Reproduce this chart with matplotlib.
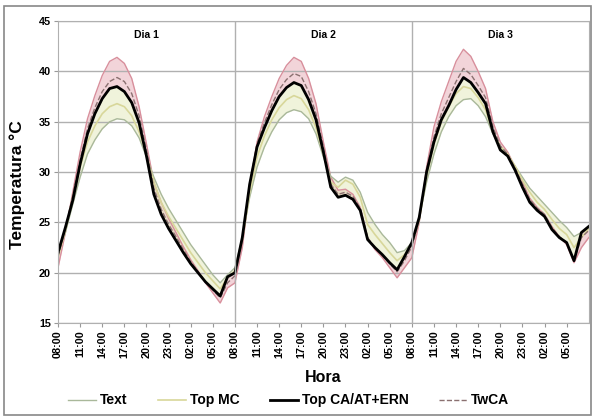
import numpy as np
import matplotlib
matplotlib.use("Agg")
import matplotlib.pyplot as plt
from matplotlib.patches import Rectangle

plt.rcParams['font.family'] = ['Liberation Sans', 'DejaVu Sans']

# horas desde las 08:00 del dia 1
horas = list(range(73))

top_ca = [22.0, 24.5, 27.2, 30.8, 33.8, 35.8, 37.3, 38.3, 38.5, 38.0, 36.9, 34.9, 31.6, 27.8, 25.8, 24.4,
          23.2, 22.0, 20.9, 20.0, 19.1, 18.4, 17.7, 19.6, 20.0,
          23.5, 28.8, 32.5, 34.4, 36.1, 37.5, 38.4, 38.9, 38.6, 37.2, 35.2, 32.0, 28.5, 27.5, 27.7,
          27.3, 26.2, 23.3, 22.5, 21.8, 21.0, 20.3, 21.6, 23.0,
          25.5, 30.0, 33.0, 35.2, 36.6, 38.2, 39.4, 38.9, 37.9, 36.8, 34.0, 32.2, 31.6, 30.2, 28.5,
          27.0, 26.2, 25.6, 24.3, 23.5, 23.0, 21.2, 24.0, 24.6]

twca = [21.6, 24.4, 27.6, 31.2, 34.3, 36.4, 38.0, 39.0, 39.4, 39.0, 37.8, 35.6, 32.2, 28.4, 26.3, 24.8,
        23.6, 22.3, 21.1, 20.1, 19.1, 18.3, 17.5, 19.0, 19.7,
        23.2, 28.8, 32.8, 34.9, 36.7, 38.2, 39.2, 39.8, 39.5, 38.0, 35.8, 32.5, 28.8, 27.8, 28.0,
        27.6, 26.4, 23.5, 22.5, 21.7, 20.9, 20.1, 21.2, 22.6,
        25.3, 30.2, 33.5, 35.8, 37.4, 39.0, 40.3, 39.7, 38.6, 37.4, 34.5, 32.6, 31.8, 30.4, 28.8,
        27.3, 26.4, 25.8, 24.5, 23.6, 23.0, 21.2, 23.5, 24.2]

rosa_max = [20.5, 24.0, 28.0, 32.0, 35.3, 37.6, 39.6, 41.0, 41.4, 40.8, 39.3, 36.5, 32.8, 29.0, 27.0, 25.4,
            24.0, 22.6, 21.3, 20.2, 19.0, 18.0, 17.0, 18.5, 19.0,
            22.5, 28.5, 33.0, 35.5, 37.5, 39.3, 40.6, 41.4, 41.0, 39.3, 36.8, 33.0, 29.5, 28.2, 28.3,
            27.8, 26.5, 23.5, 22.3, 21.5, 20.5, 19.5, 20.5, 21.5,
            25.0, 30.5, 34.5, 37.0, 39.0, 41.0, 42.2, 41.5, 40.0, 38.3, 35.0, 33.0, 32.0, 30.5, 29.0,
            27.4, 26.5, 25.8, 24.6, 23.6, 22.8, 21.0, 22.5, 23.5]

text = [22.0, 24.0, 26.8, 29.5, 31.8, 33.2, 34.3, 35.0, 35.3, 35.2, 34.6, 33.4, 31.5, 29.5, 27.8, 26.4,
        25.2, 24.0, 22.8, 21.8, 20.8, 19.8, 19.0, 19.8, 20.5,
        23.5, 27.5, 30.5, 32.5, 34.0, 35.2, 35.9, 36.2, 36.0, 35.3, 33.8, 31.5, 29.6, 29.0, 29.5,
        29.2, 28.0, 26.0, 24.8, 23.8, 23.0, 22.0, 22.2, 23.0,
        25.5, 29.0, 31.8, 34.0, 35.5, 36.6, 37.2, 37.3, 36.6, 35.5, 33.8, 32.5, 31.6, 30.6, 29.5,
        28.4, 27.6, 26.8, 26.0, 25.2, 24.5, 23.6, 24.0, 24.6]

top_mc = [21.5, 24.2, 27.5, 30.5, 33.0, 34.6, 35.8, 36.5, 36.8, 36.5, 35.6, 34.0, 31.8, 29.0, 27.0, 25.6,
          24.4, 23.2, 22.0, 21.0, 20.0, 19.2, 18.4, 19.5, 20.2,
          23.2, 28.0, 31.5, 33.6, 35.2, 36.4, 37.2, 37.6, 37.3, 36.2, 34.4, 31.8, 29.0, 28.5, 29.2,
          28.8, 27.5, 24.8, 23.8, 22.9, 22.0, 21.2, 21.8, 22.8,
          25.2, 29.6, 32.8, 35.0, 36.5, 37.8, 38.5, 38.3, 37.4, 36.2, 34.0, 32.6, 31.8, 30.6, 29.2,
          28.0, 27.0, 26.3, 25.3, 24.4, 23.8, 22.5, 23.5, 24.4]

dias = ["Dia 1", "Dia 2", "Dia 3"]
ticks_x = list(range(0, 72, 3))
etiquetas_x = [f"{(8 + h) % 24:02d}:00" for h in ticks_x]

fig = plt.figure(figsize=(5.95, 4.18), dpi=100)
ax = fig.add_axes([0.0975, 0.227, 0.892, 0.7225])

# bandas de dispersion
ax.fill_between(horas, rosa_max, top_ca, color='#e3a0ac', alpha=0.45, lw=0)
ax.fill_between(horas, text, top_ca, color='#dfe6b0', alpha=0.45, lw=0)

ax.plot(horas, rosa_max, color='#d88f9c', lw=1.0)
ax.plot(horas, text, color='#a9b89a', lw=1.0, label='Text')
ax.plot(horas, top_mc, color='#d8d79a', lw=1.2, label='Top MC')
ax.plot(horas, twca, color='#8a7070', lw=1.0, ls='--', label='TwCA')
ax.plot(horas, top_ca, color='black', lw=2.0, label='Top CA/AT+ERN')

ax.set_xlim(0, 72)
ax.set_ylim(15, 45)
ax.set_yticks(range(15, 46, 5))
ax.set_xticks(ticks_x)
ax.set_xticklabels(etiquetas_x, rotation=90, fontsize=7.8, fontweight='bold')
for t in ax.get_yticklabels():
    t.set_fontsize(7.8)
    t.set_fontweight('bold')
ax.tick_params(axis='both', length=3, color='#999999', pad=2)

ax.grid(axis='y', color='#b0b0b0', lw=1)
for d in (24, 48):
    ax.axvline(d, color='#b0b0b0', lw=1)
for s in ax.spines.values():
    s.set_color('#b0b0b0')

for i, dia in enumerate(dias):
    ax.text(12 + 24 * i, 43.6, dia, ha='center', va='center', fontsize=7.5, fontweight='bold')

ax.set_xlabel('Hora', fontsize=11.5, fontweight='bold')
ax.xaxis.set_label_coords(0.5, -0.155)
ax.set_ylabel('Temperatura °C', fontsize=12.5, fontweight='bold')
ax.yaxis.set_label_coords(-0.062, 0.46)

h, l = ax.get_legend_handles_labels()
orden = ['Text', 'Top MC', 'Top CA/AT+ERN', 'TwCA']
hd = dict(zip(l, h))
fig.legend([hd[k] for k in orden], orden, loc='center', bbox_to_anchor=(0.485, 0.042), ncol=4,
           frameon=False, prop={'weight': 'bold', 'size': 10}, handlelength=2.0,
           columnspacing=2.2, handletextpad=0.3)

fig.patches.append(Rectangle((0.006, 0.007), 0.988, 0.978, transform=fig.transFigure,
                             fill=False, edgecolor='#888888', lw=1.2))

fig.savefig('out.png', dpi=100)
